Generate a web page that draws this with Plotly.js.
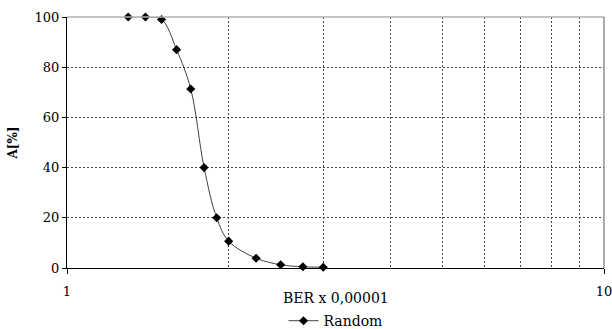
<!DOCTYPE html>
<html><head><meta charset="utf-8">
<script src="https://cdn.plot.ly/plotly-3.0.1.min.js"></script>
<style>html,body{margin:0;padding:0;background:#fff}#chart{width:612px;height:329px}</style>
</head><body><div id="chart"></div>
<script>
const berValues = [1.3, 1.4, 1.5, 1.6, 1.7, 1.8, 1.9, 2.0, 2.25, 2.5, 2.75, 3.0];
const randomValues = [100, 100, 99, 87, 71.3, 40, 20, 10.7, 3.9, 1.3, 0.5, 0.3];
const xTickVals = [1, 10];
const xTickText = ["1", "10"];
const xMinorVals = [2, 3, 4, 5, 6, 7, 8, 9];
const yTickVals = [0, 20, 40, 60, 80, 100];
const seriesName = "Random";
const xTitle = "BER x 0,00001";
const yTitle = "A[%]";

const serif = "DejaVu Serif";
const font = {family: serif, size: 13, color: "#000"};
const trace = {
  x: berValues, y: randomValues, name: seriesName, type: "scatter", mode: "lines+markers",
  line: {color: "#404040", width: 1, shape: "spline", smoothing: 1},
  marker: {symbol: "diamond", size: 7, color: "#000"},
  cliponaxis: false
};
const layout = {
  width: 612, height: 329,
  margin: {l: 67, r: 8, t: 17, b: 61},
  paper_bgcolor: "#fff", plot_bgcolor: "#fff",
  font: font,
  showlegend: true,
  legend: {orientation: "h", x: 0.5, xanchor: "center", yref: "container", y: 0.024, yanchor: "middle", font: {size: 14, family: serif}, itemwidth: 30},
  xaxis: {
    type: "log", range: [0, 1],
    tickmode: "array", tickvals: xTickVals, ticktext: xTickText,
    ticks: "outside", ticklen: 5, tickcolor: "#000",
    ticklabelstandoff: 6, ticklabeloverflow: "allow",
    showline: true, linecolor: "#000", linewidth: 1,
    showgrid: true, gridcolor: "#444", griddash: "2px,2px", gridwidth: 1,
    minor: {tickmode: "array", tickvals: xMinorVals, showgrid: true, gridcolor: "#444", griddash: "2px,2px", gridwidth: 1, ticks: ""},
    zeroline: false, tickfont: {size: 13, family: serif}
  },
  yaxis: {
    range: [0, 100], tickmode: "array", tickvals: yTickVals,
    ticks: "outside", ticklen: 4, tickcolor: "#000",
    showline: true, linecolor: "#000", linewidth: 1,
    showgrid: true, gridcolor: "#444", griddash: "2px,2px", gridwidth: 1,
    zeroline: false, tickfont: {size: 13, family: serif},
    title: {text: "<b>" + yTitle + "</b>", font: {size: 12, family: serif}, standoff: 14}
  },
  shapes: [
    {type: "line", xref: "paper", yref: "paper", x0: 0, x1: 1, y0: 1, y1: 1, line: {color: "#b0b0b0", width: 1.5}},
    {type: "line", xref: "paper", yref: "paper", x0: 1, x1: 1, y0: 0, y1: 1, line: {color: "#909090", width: 1.5}}
  ],
  annotations: [
    {text: xTitle, xref: "paper", yref: "paper", x: 0.5, y: -0.12, yanchor: "middle", showarrow: false, font: {size: 14, family: serif}}
  ]
};
Plotly.newPlot("chart", [trace], layout, {displayModeBar: false, staticPlot: true});
</script></body></html>
